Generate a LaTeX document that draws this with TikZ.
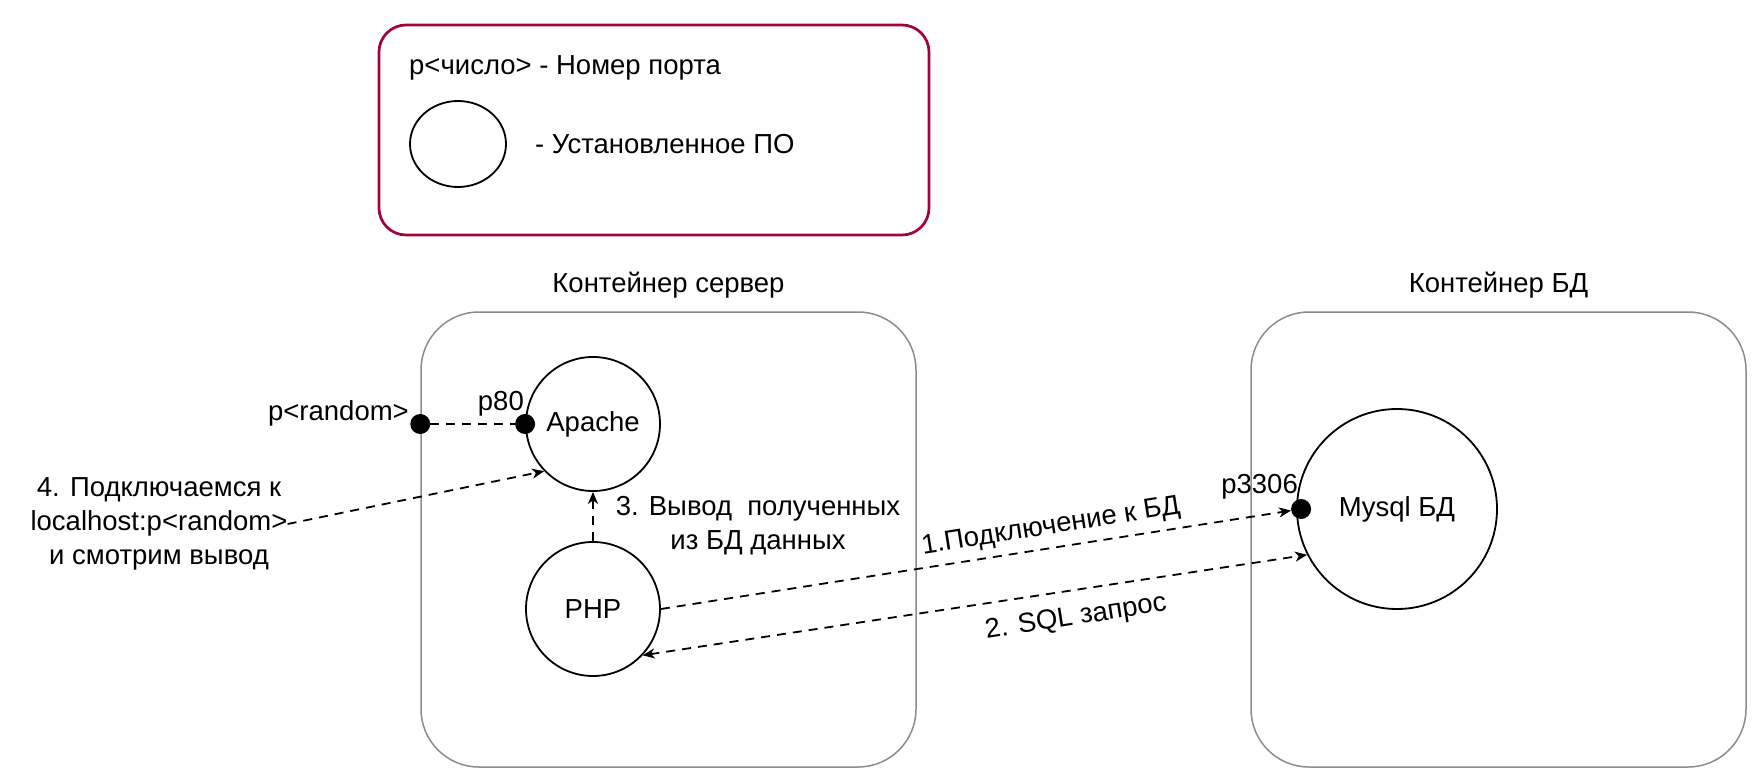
\documentclass[tikz,border=0pt]{standalone}
\usepackage{fontspec}
\setmainfont{Liberation Sans}
\usetikzlibrary{shapes.geometric,arrows.meta}
\definecolor{legendred}{HTML}{A50040}
\definecolor{boxgray}{HTML}{8C8C8C}
\begin{document}
\begin{tikzpicture}[x=1pt,y=-1pt,
  lbl/.style={inner sep=0pt, font=\fontsize{27.5}{34}\selectfont},
  sw/.style={draw, circle, line width=1.8pt, minimum size=134pt, inner sep=0pt, font=\fontsize{27.5}{34}\selectfont},
  container/.style={draw=boxgray, line width=1.5pt, rounded corners=58pt, minimum width=495pt, minimum height=455pt},
  portdot/.style={circle, fill=black, inner sep=0pt, minimum size=20pt},
  dline/.style={line width=1.8pt, dash pattern=on 9pt off 7pt},
  >={Stealth[length=12pt,width=10pt,inset=3.5pt]}
]
\useasboundingbox (0,0) rectangle (1757,776);

% legend
\node[draw=legendred, line width=2.7pt, rounded corners=27pt, minimum width=550pt, minimum height=210pt] (legend) at (654,130) {};
\node[lbl, anchor=west] (legt1) at (409,68) {p<число> - Номер порта};
\node[draw, ellipse, line width=1.8pt, minimum width=96pt, minimum height=86pt, inner sep=0pt] (legc) at (458,144) {};
\node[lbl, anchor=west] (legt2) at (535,144) {- Установленное ПО};

% containers
\node[container] (srv) at (668.5,539.5) {};
\node[container] (dbc) at (1498.5,539.5) {};
\node[lbl, anchor=south] (tsrv) at (668.5,298) {Контейнер сервер};
\node[lbl, anchor=south] (tdbc) at (1498.5,298) {Контейнер БД};

% software
\node[sw] (apache) at (593,424) {Apache};
\node[sw] (php) at (593,609) {PHP};
\node[sw, minimum size=200pt] (mysql) at (1397,509) {Mysql БД};

% ports
\node[portdot] (prand) at (srv.west |- apache.center) {};
\node[portdot] (p80) at (apache.west) {};
\node[portdot] (p3306) at ([xshift=5pt]mysql.west) {};
\node[lbl, anchor=base east] (lrand) at (409,420) {p<random>};
\node[lbl, anchor=base east] (l80) at (524,410) {p80};
\node[lbl, anchor=base east] (l3306) at (1298,493) {p3306};

% labels
\node[lbl, rotate=9] (t1) at (1051,527) {1.Подключение к БД};
\node[lbl, rotate=9] (t2) at (1076,618) {2. SQL запрос};
\node[lbl, align=center] (t3) at (758,526) {3. Вывод\ \ полученных\\из БД данных};
\node[lbl, align=center] (t4) at (159,524) {4. Подключаемся к\\localhost:p<random>\\и смотрим вывод};

% connectors
\draw[dline] (prand) -- (p80);
\draw[dline, ->] (php) -- (apache);
\draw[dline, ->] (t4.east) -- (apache.224);
\draw[dline, ->] (php.east) -- (p3306);
\draw[dline, <->] (php.317) -- (mysql.207);
\end{tikzpicture}
\end{document}
